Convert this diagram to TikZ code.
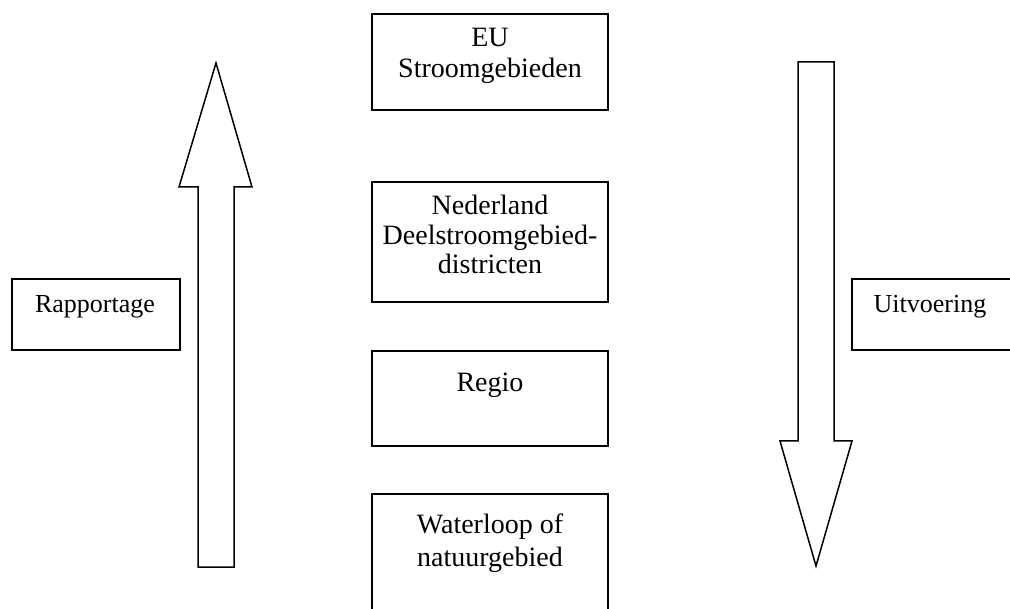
\documentclass[tikz,border=0pt]{standalone}
\usepackage{fontspec}
\setmainfont{Liberation Serif}
\begin{document}
\begin{tikzpicture}[x=1pt,y=-1pt,
  boxline/.style={draw=black,line width=1.8pt},
  blockarrow/.style={draw=black,line width=1.5pt,line join=miter,fill=white},
  mid/.style={font=\fontsize{28}{30}\selectfont,anchor=base,inner sep=0pt},
  side/.style={font=\fontsize{26}{30}\selectfont,anchor=base,inner sep=0pt}]
\useasboundingbox (0,0) rectangle (1010,609);
% boxes
\draw[boxline] (372,14) rectangle (608,110);
\draw[boxline] (372,182) rectangle (608,302);
\draw[boxline] (372,351) rectangle (608,446);
\draw[boxline] (372,494) rectangle (608,620);
\draw[boxline] (12,279) rectangle (180,350);
\draw[boxline] (852,279) rectangle (1020,350);
% texts
\node[mid] (eu1) at (490,47) {EU};
\node[mid] (eu2) at (490,78) {Stroomgebieden};
\node[mid] (nl1) at (490,215) {Nederland};
\node[mid] (nl2) at (490,245) {Deelstroomgebied-};
\node[mid] (nl3) at (490,274) {districten};
\node[mid] (reg) at (490,392) {Regio};
\node[mid] (wl1) at (490,533) {Waterloop of};
\node[mid] (wl2) at (490,566) {natuurgebied};
\node[side] (rap) at (95,313) {Rapportage};
\node[side] (uit) at (930,313) {Uitvoering};
% block arrows
\draw[blockarrow] (198,567) -- (198,187) -- (179,187) -- (216,63) -- (252,187)
  -- (234,187) -- (234,567) -- cycle;
\draw[blockarrow] (798,62) -- (834,62) -- (834,441) -- (852,441) -- (816,566)
  -- (780,441) -- (798,441) -- cycle;
\end{tikzpicture}
\end{document}
